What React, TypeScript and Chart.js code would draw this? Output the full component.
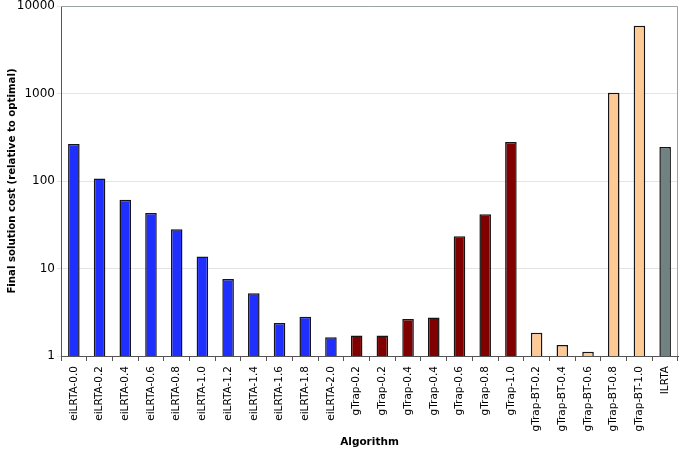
import React, { useEffect, useRef } from "react";
import { Chart, registerables } from "chart.js";

Chart.register(...registerables);

const categories = [
  "eiLRTA-0.0", "eiLRTA-0.2", "eiLRTA-0.4", "eiLRTA-0.6", "eiLRTA-0.8", "eiLRTA-1.0",
  "eiLRTA-1.2", "eiLRTA-1.4", "eiLRTA-1.6", "eiLRTA-1.8", "eiLRTA-2.0",
  "gTrap-0.2", "gTrap-0.2", "gTrap-0.4", "gTrap-0.4", "gTrap-0.6", "gTrap-0.8", "gTrap-1.0",
  "gTrap-BT-0.2", "gTrap-BT-0.4", "gTrap-BT-0.6", "gTrap-BT-0.8", "gTrap-BT-1.0", "ILRTA",
];

const values = [
  265, 107, 61, 43, 28, 13.7,
  7.6, 5.2, 2.38, 2.81, 1.64,
  1.71, 1.71, 2.65, 2.76, 23.4, 41.6, 279,
  1.84, 1.34, 1.12, 1021, 5950, 245,
];

const groups = [
  "e", "e", "e", "e", "e", "e", "e", "e", "e", "e", "e",
  "g", "g", "g", "g", "g", "g", "g",
  "b", "b", "b", "b", "b",
  "i",
];

const groupColors: Record<string, string> = {
  e: "#1f2fff",
  g: "#800000",
  b: "#ffc996",
  i: "#728282",
};

const yTicks = [1, 10, 100, 1000, 10000];

const FONT = "'DejaVu Sans', Verdana, sans-serif";

const frame = {
  id: "frame",
  afterDraw(chart: any) {
    const { ctx, chartArea } = chart;
    ctx.save();
    ctx.strokeStyle = "#9aa4a4";
    ctx.lineWidth = 1;
    ctx.beginPath();
    ctx.moveTo(chartArea.left, chartArea.top + 0.5);
    ctx.lineTo(chartArea.right - 0.5, chartArea.top + 0.5);
    ctx.lineTo(chartArea.right - 0.5, chartArea.bottom);
    ctx.stroke();
    ctx.restore();
  },
};

export default function App() {
  const ref = useRef<HTMLCanvasElement>(null);
  useEffect(() => {
    document.body.style.margin = "0";
    const chart = new Chart(ref.current!, {
      type: "bar",
      data: {
        labels: categories,
        datasets: [
          {
            data: values,
            backgroundColor: groups.map((g) => groupColors[g]),
            borderColor: "#151515",
            borderWidth: 1.5,
            categoryPercentage: 1,
            barPercentage: 0.45,
          },
        ],
      },
      options: {
        animation: false,
        responsive: false,
        maintainAspectRatio: false,
        layout: { padding: { top: 6, right: 3, left: 0, bottom: 0 } },
        plugins: { legend: { display: false }, tooltip: { enabled: false } },
        scales: {
          x: {
            offset: true,
            grid: { display: true, offset: true, drawOnChartArea: false, drawTicks: true, tickLength: 5, color: "#555" },
            border: { display: true, color: "#555", width: 1 },
            ticks: {
              autoSkip: false,
              maxRotation: 90,
              minRotation: 90,
              color: "#000",
              font: { family: FONT, size: 10.5 },
              padding: 5,
            },
            title: {
              display: true,
              text: "Algorithm",
              color: "#000",
              font: { family: FONT, size: 10.5, weight: "bold" },
              padding: { top: 0, bottom: 3 },
            },
            afterFit: (s: any) => {
              s.height = 96;
              s.paddingLeft = 0;
              s.paddingRight = 0;
            },
          },
          y: {
            type: "logarithmic",
            min: 1,
            max: 10000,
            afterBuildTicks: (s: any) => {
              s.ticks = yTicks.map((v) => ({ value: v }));
            },
            grid: { color: "#e4e4e4", drawTicks: true, tickLength: 4 },
            border: { display: true, color: "#555", width: 1 },
            ticks: {
              color: "#000",
              font: { family: FONT, size: 12 },
              padding: 2,
              callback: (v: any) => String(v),
            },
            title: {
              display: true,
              text: "Final solution cost (relative to optimal)",
              color: "#000",
              font: { family: FONT, size: 10.2, weight: "bold" },
              padding: { top: 6, bottom: 2 },
            },
            afterFit: (s: any) => {
              s.width = 61;
              s.paddingTop = 0;
              s.paddingBottom = 0;
            },
          },
        },
      },
      plugins: [frame],
    });
    return () => chart.destroy();
  }, []);
  return (
    <div style={{ width: 681, height: 452 }}>
      <canvas ref={ref} width={681} height={452} style={{ width: 681, height: 452 }} />
    </div>
  );
}
